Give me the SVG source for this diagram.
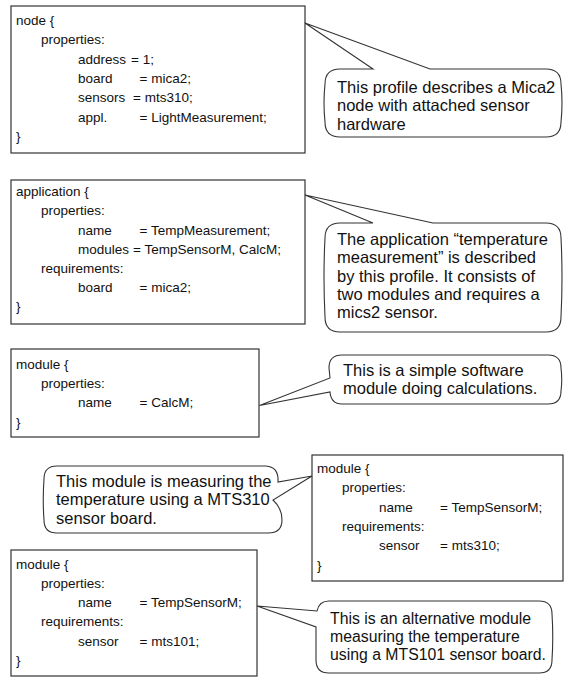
<svg xmlns="http://www.w3.org/2000/svg" width="564" height="681" viewBox="0 0 564 681">
<style>
.box{fill:#fff;stroke:#333;stroke-width:1.2}
.bub{fill:#fff;stroke:#333;stroke-width:1.1;stroke-linejoin:miter}
.code{font-family:"Liberation Sans",Arial,sans-serif;font-size:13.5px;fill:#111}
.note{font-family:"Liberation Sans",Arial,sans-serif;font-size:16.5px;fill:#111}
.note.sm{font-size:15.8px}
</style>
<rect width="564" height="681" fill="#fff"/>

<g id="node-profile">
<rect class="box" x="11" y="6" width="294" height="147"/>
<g class="code">
<text x="16" y="24.5">node {</text>
<text x="41" y="44">properties:</text>
<text x="78" y="63.5">address</text><text x="131" y="63.5">= 1;</text>
<text x="78" y="83">board</text><text x="139.5" y="83">= mica2;</text>
<text x="78" y="102">sensors</text><text x="133" y="102">= mts310;</text>
<text x="78" y="121.5">appl.</text><text x="139.5" y="121.5">= LightMeasurement;</text>
<text x="16" y="141">}</text>
</g>
</g>

<g id="note-node">
<path class="bub" d="M340,69 L373,69 L305,23 L430,69 L546,69 Q561,69 561,84 Q563,103 561,122 Q561,137 546,137 L340,137 Q325,137 325,122 Q323,103 325,84 Q325,69 340,69 Z"/>
<g class="note">
<text x="337" y="93">This profile describes a Mica2</text>
<text x="337" y="111.3">node with attached sensor</text>
<text x="337" y="129.6">hardware</text>
</g>
</g>

<g id="application-profile">
<rect class="box" x="11" y="180" width="294" height="144"/>
<g class="code">
<text x="16" y="196">application {</text>
<text x="41" y="215.3">properties:</text>
<text x="78" y="234.6">name</text><text x="139.5" y="234.6">= TempMeasurement;</text>
<text x="78" y="253.8">modules</text><text x="133" y="253.8">= TempSensorM, CalcM;</text>
<text x="41" y="273">requirements:</text>
<text x="78" y="292.2">board</text><text x="139.5" y="292.2">= mica2;</text>
<text x="16" y="311.4">}</text>
</g>
</g>

<g id="note-application">
<path class="bub" d="M340,223 L373,223 L305,195 L433,223 L546,223 Q561,223 561,238 Q563,277 561,317 Q561,332 546,332 L340,332 Q325,332 325,317 Q323,277 325,238 Q325,223 340,223 Z"/>
<g class="note">
<text x="337" y="245">The application “temperature</text>
<text x="337" y="263.3">measurement” is described</text>
<text x="337" y="281.6">by this profile. It consists of</text>
<text x="337" y="299.9">two modules and requires a</text>
<text x="337" y="318.2">mics2 sensor.</text>
</g>
</g>

<g id="module-calcm">
<rect class="box" x="11" y="349" width="248" height="88"/>
<g class="code">
<text x="16" y="368.5">module {</text>
<text x="41" y="388">properties:</text>
<text x="78" y="407">name</text><text x="139.5" y="407">= CalcM;</text>
<text x="16" y="426.5">}</text>
</g>
</g>

<g id="note-calcm">
<path class="bub" d="M342,355 L548,355 Q561,355 561,368 Q562.5,380 561,391 Q561,404 548,404 L342,404 Q331,404 330,392 L259.5,405.5 L330,378 L329,368 Q329,355 342,355 Z"/>
<g class="note">
<text x="343" y="375.5">This is a simple software</text>
<text x="343" y="394">module doing calculations.</text>
</g>
</g>

<g id="module-tempsensor-mts310">
<rect class="box" x="312" y="455" width="251" height="126"/>
<g class="code">
<text x="317" y="473">module {</text>
<text x="342" y="492.3">properties:</text>
<text x="379" y="511.6">name</text><text x="440" y="511.6">= TempSensorM;</text>
<text x="342" y="530.9">requirements:</text>
<text x="379" y="550.2">sensor</text><text x="440" y="550.2">= mts310;</text>
<text x="317" y="569.5">}</text>
</g>
</g>

<g id="note-mts310">
<path class="bub" d="M57,466 L266,466 Q279,467 278,482 L312,476 L273,500 Q282,508 282,520 Q282,533 268,533 L57,533 Q44,533 44,520 Q42.5,500 44,479 Q44,466 57,466 Z"/>
<g class="note">
<text x="56" y="487">This module is measuring the</text>
<text x="56" y="505.3">temperature using a MTS310</text>
<text x="56" y="523.6">sensor board.</text>
</g>
</g>

<g id="module-tempsensor-mts101">
<rect class="box" x="11" y="550" width="246" height="126"/>
<g class="code">
<text x="16" y="568.5">module {</text>
<text x="41" y="587.8">properties:</text>
<text x="78" y="607.1">name</text><text x="139.5" y="607.1">= TempSensorM;</text>
<text x="41" y="626.4">requirements:</text>
<text x="78" y="645.7">sensor</text><text x="139.5" y="645.7">= mts101;</text>
<text x="16" y="665">}</text>
</g>
</g>

<g id="note-mts101">
<path class="bub" d="M329,601 L539,601 Q552,601 552,614 Q553.5,637 552,660 Q552,673 539,673 L329,673 Q316,673 316,660 L316,627 L257,606 L317,611 Q319,601 329,601 Z"/>
<g class="note sm">
<text x="330" y="623.5">This is an alternative module</text>
<text x="330" y="641.5">measuring the temperature</text>
<text x="330" y="659.5">using a MTS101 sensor board.</text>
</g>
</g>
</svg>
